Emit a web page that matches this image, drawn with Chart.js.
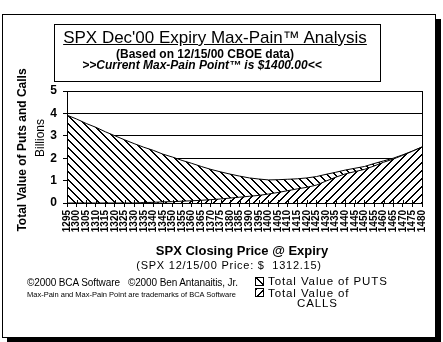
<!DOCTYPE html>
<html>
<head>
<meta charset="utf-8">
<script src="https://cdn.jsdelivr.net/npm/chart.js@4.4.1/dist/chart.umd.min.js"></script>
<style>
  html, body { margin: 0; padding: 0; background: #fff; }
  body { width: 443px; height: 342px; position: relative; overflow: hidden;
         font-family: Arial, 'Liberation Sans', sans-serif; color: #000; }
  .abs { position: absolute; white-space: nowrap; }
  #frame { left: 2px; top: 14px; width: 432px; height: 322px; border: 1px solid #000;
           box-shadow: 5px 5px 0 #000; background: #fff; }
  #titleBox { left: 54px; top: 24px; width: 325px; height: 56px; border: 1px solid #000; }
  #chart { position: absolute; left: 0; top: 0; }
  .c { text-align: center; }
  .sw { width: 7px; height: 7px; border: 1px solid #000; }
  .lg { font-size: 11.5px; line-height: 11px; letter-spacing: 0.9px; }
</style>
</head>
<body>
<div id="frame" class="abs"></div>
<div id="titleBox" class="abs"></div>
<canvas id="chart" width="443" height="342"></canvas>

<!-- heading texts -->
<div class="abs c" style="left:15px;width:400px;top:29px;font-size:17px;line-height:17px;text-decoration:underline;">SPX Dec'00 Expiry Max-Pain™ Analysis</div>
<div class="abs c" style="left:5px;width:400px;top:48px;font-size:12px;line-height:12px;font-weight:bold;">(Based on 12/15/00 CBOE data)</div>
<div class="abs c" style="left:2px;width:400px;top:59px;font-size:12px;line-height:12px;font-weight:bold;font-style:italic;">&gt;&gt;Current Max-Pain Point™ is $1400.00&lt;&lt;</div>

<!-- axis titles -->
<div class="abs c" style="left:-178px;width:400px;top:143px;font-size:12px;line-height:14px;font-weight:bold;transform:rotate(-90deg);">Total Value of Puts and Calls</div>
<div class="abs c" style="left:-160px;width:400px;top:131px;font-size:12px;line-height:14px;transform:rotate(-90deg);">Billions</div>
<div class="abs c" style="left:42px;width:400px;top:244px;font-size:13px;line-height:13px;font-weight:bold;">SPX Closing Price @ Expiry</div>
<div class="abs c" style="left:29px;width:400px;top:260px;font-size:11px;line-height:11px;letter-spacing:0.75px;">(SPX 12/15/00 Price: $&nbsp; 1312.15)</div>

<!-- footer -->
<div class="abs" style="left:27px;top:278px;font-size:10px;line-height:10px;letter-spacing:-0.1px;">©2000 BCA Software&nbsp;&nbsp; ©2000 Ben Antanaitis, Jr.</div>
<div class="abs" style="left:27px;top:291px;font-size:7.5px;line-height:8px;">Max-Pain and Max-Pain Point are trademarks of BCA Software</div>

<!-- legend -->
<div class="abs sw" id="swPuts" style="left:255px;top:277px;"></div>
<div class="abs lg" style="left:268px;top:276px;">Total Value of PUTS</div>
<div class="abs sw" id="swCalls" style="left:255px;top:288px;"></div>
<div class="abs lg" style="left:268px;top:288px;">Total Value of</div>
<div class="abs lg" style="left:297px;top:298px;">CALLS</div>

<script>
// ── Data (billions of dollars) ────────────────────────────────
const strikes = [
  '1295', '1300', '1305', '1310', '1315', '1320', '1325', '1330', '1335', '1340',
  '1345', '1350', '1355', '1360', '1365', '1370', '1375', '1380', '1385', '1390',
  '1395', '1400', '1405', '1410', '1415', '1420', '1425', '1430', '1435', '1440',
  '1445', '1450', '1455', '1460', '1465', '1470', '1475', '1480'
];

const putsValue = [
  3.92, 3.75, 3.55, 3.38, 3.18, 3.00, 2.82, 2.65, 2.47, 2.32,
  2.13, 1.99, 1.82, 1.67, 1.51, 1.35, 1.21, 1.07, 0.94, 0.82,
  0.73, 0.63, 0.57, 0.51, 0.45, 0.42, 0.38, 0.30, 0.22, 0.17,
  0.15, 0.13, 0.11, 0.06, 0.04, 0.02, 0.01, 0.00
];

const callsValue = [
  0.00, 0.00, 0.00, 0.00, 0.00, 0.00, 0.00, 0.00, 0.02, 0.03,
  0.05, 0.06, 0.08, 0.10, 0.12, 0.15, 0.18, 0.22, 0.26, 0.30,
  0.34, 0.40, 0.47, 0.55, 0.63, 0.70, 0.80, 0.98, 1.15, 1.30,
  1.40, 1.50, 1.65, 1.82, 1.96, 2.13, 2.31, 2.50
];

const yTicks = [0, 1, 2, 3, 4, 5];

// ── Hatch patterns ────────────────────────────────────────────
const canvas = document.getElementById('chart');
const ctx    = canvas.getContext('2d');

// dir = 1 -> "\\\" , dir = -1 -> "///"
const makeHatch = (dir, size) => {
  const c = document.createElement('canvas');
  c.width = c.height = size;
  const g = c.getContext('2d');
  g.fillStyle = '#fff';
  g.fillRect(0, 0, size, size);
  g.fillStyle = '#000';
  for (let i = 0; i < size; i++) {
    const x = dir > 0 ? i : size - 1 - i;
    g.fillRect(x, i, 1, 1);
    g.fillRect((x + 1) % size, i, 1, 1);
  }
  return c;
};

const putsTile  = makeHatch(1, 8);
const callsTile = makeHatch(-1, 8);
document.getElementById('swPuts').style.background  = `url(${putsTile.toDataURL()})`;
document.getElementById('swCalls').style.background = `url(${callsTile.toDataURL()})`;

// ── Frame + cross tick marks on the plot ──────────────────────
const plotFrame = {
  id: 'plotFrame',
  afterDraw(chart) {
    const { ctx: g, chartArea: a, scales: { x } } = chart;
    g.save();
    g.strokeStyle = '#000';
    g.lineWidth = 1;
    g.strokeRect(Math.round(a.left) + 0.5, Math.round(a.top) + 0.5,
                 Math.round(a.right - a.left), Math.round(a.bottom - a.top));
    g.beginPath();
    x.ticks.forEach((_, i) => {
      const px = Math.round(x.getPixelForTick(i)) + 0.5;
      g.moveTo(px, a.bottom - 3);
      g.lineTo(px, a.bottom);
    });
    g.stroke();
    g.restore();
  }
};

// ══════════════════════════════════════════════════════════════
// STACKED AREA — calls at the bottom, puts on top
// ══════════════════════════════════════════════════════════════
new Chart(canvas, {
  type: 'line',
  data: {
    labels: strikes,
    datasets: [
      {
        label: 'Total Value of CALLS',
        data: callsValue,
        backgroundColor: ctx.createPattern(callsTile, 'repeat'),
        borderColor: '#000',
        borderWidth: 1,
        pointRadius: 0,
        tension: 0,
        fill: 'origin'
      },
      {
        label: 'Total Value of PUTS',
        data: putsValue,
        backgroundColor: ctx.createPattern(putsTile, 'repeat'),
        borderColor: '#000',
        borderWidth: 1,
        pointRadius: 0,
        tension: 0,
        fill: '-1'
      }
    ]
  },
  options: {
    responsive: false,
    animation: false,
    layout: { padding: { left: 0, top: 91, right: 21, bottom: 103 } },
    plugins: {
      legend:  { display: false },
      tooltip: { enabled: false }
    },
    scales: {
      x: {
        offset: false,
        afterFit: (s) => { s.height = 36; },
        grid: { drawOnChartArea: false, color: '#000', tickLength: 4 },
        border: { color: '#000' },
        ticks: {
          autoSkip: false,
          maxRotation: 90,
          minRotation: 90,
          padding: 3,
          color: '#000',
          font: { family: 'Arial', size: 10, weight: 'bold' }
        }
      },
      y: {
        stacked: true,
        min: 0,
        max: 5,
        afterFit: (s) => { s.width = 67; },
        afterBuildTicks: (s) => { s.ticks = yTicks.map(v => ({ value: v })); },
        grid: { color: '#000', tickLength: 4 },
        border: { color: '#000' },
        ticks: {
          padding: 6,
          color: '#000',
          font: { family: 'Arial', size: 12, weight: 'bold' }
        }
      }
    }
  },
  plugins: [plotFrame]
});
</script>
</body>
</html>
